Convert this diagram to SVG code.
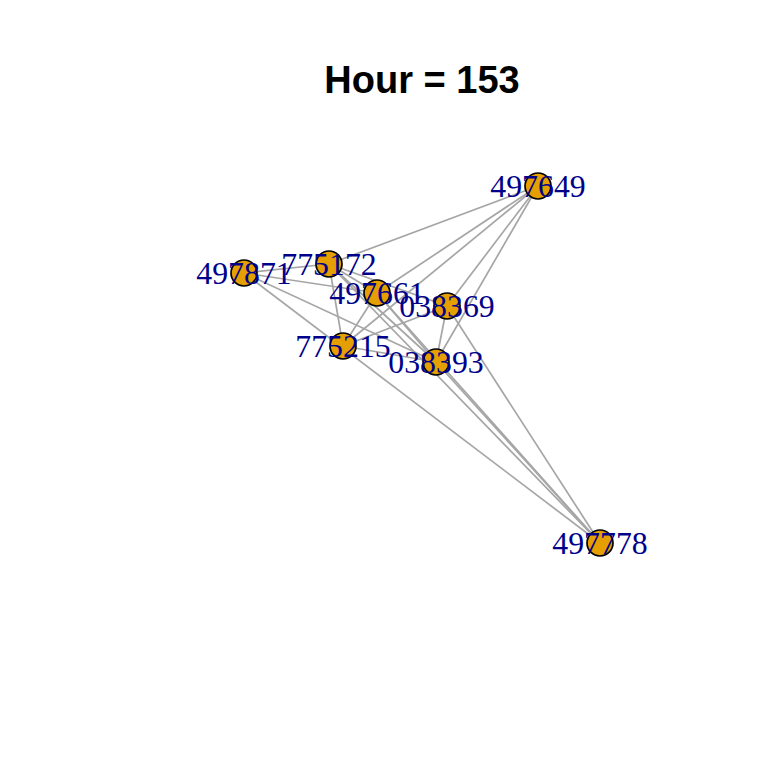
<svg xmlns="http://www.w3.org/2000/svg" width="768" height="768" viewBox="0 0 768 768">
<style>
.e{stroke:#A6A6A6;stroke-width:1.7;fill:none}
.n{fill:#E69F00;stroke:#000;stroke-width:1.7}
.l{font-family:"Liberation Serif","Times New Roman",serif;font-size:31.8px;fill:#00008B;text-anchor:middle}
.t{font-family:"Liberation Sans",Arial,sans-serif;font-size:38px;font-weight:bold;fill:#000;text-anchor:middle}
</style>
<rect width="768" height="768" fill="#fff"/>
<text class="t" x="422" y="93">Hour = 153</text>
<g id="edges">
<line class="e" x1="538" y1="186" x2="329" y2="264"/>
<line class="e" x1="538" y1="186" x2="377" y2="293"/>
<line class="e" x1="538" y1="186" x2="343" y2="346"/>
<line class="e" x1="538" y1="186" x2="447" y2="306"/>
<line class="e" x1="538" y1="186" x2="436" y2="362"/>
<line class="e" x1="244" y1="273" x2="329" y2="264"/>
<line class="e" x1="244" y1="273" x2="377" y2="293"/>
<line class="e" x1="244" y1="273" x2="436" y2="362"/>
<line class="e" x1="244" y1="273" x2="600" y2="543"/>
<line class="e" x1="329" y1="264" x2="343" y2="346"/>
<line class="e" x1="329" y1="264" x2="377" y2="293"/>
<line class="e" x1="329" y1="264" x2="447" y2="306"/>
<line class="e" x1="329" y1="264" x2="436" y2="362"/>
<line class="e" x1="329" y1="264" x2="600" y2="543"/>
<line class="e" x1="377" y1="293" x2="343" y2="346"/>
<line class="e" x1="377" y1="293" x2="436" y2="362"/>
<line class="e" x1="377" y1="293" x2="600" y2="543"/>
<line class="e" x1="447" y1="306" x2="343" y2="346"/>
<line class="e" x1="447" y1="306" x2="436" y2="362"/>
<line class="e" x1="447" y1="306" x2="600" y2="543"/>
<line class="e" x1="343" y1="346" x2="436" y2="362"/>
<line class="e" x1="436" y1="362" x2="600" y2="543"/>
</g>
<g id="n497649"><circle class="n" cx="538" cy="186" r="13"/></g>
<g id="n775172"><circle class="n" cx="329" cy="264" r="13"/></g>
<g id="n497871"><circle class="n" cx="244" cy="273" r="13"/></g>
<g id="n497661"><circle class="n" cx="377" cy="293" r="13"/></g>
<g id="n038369"><circle class="n" cx="447" cy="306" r="13"/></g>
<g id="n775215"><circle class="n" cx="343" cy="346" r="13"/></g>
<g id="n038393"><circle class="n" cx="436" cy="362" r="13"/></g>
<g id="n497778"><circle class="n" cx="600" cy="543" r="13"/></g>
<g id="labels">
<text class="l" x="538" y="197">497649</text>
<text class="l" x="329" y="275">775172</text>
<text class="l" x="244" y="284">497871</text>
<text class="l" x="377" y="304">497661</text>
<text class="l" x="447" y="317">038369</text>
<text class="l" x="343" y="357">775215</text>
<text class="l" x="436" y="373">038393</text>
<text class="l" x="600" y="554">497778</text>
</g>
</svg>
